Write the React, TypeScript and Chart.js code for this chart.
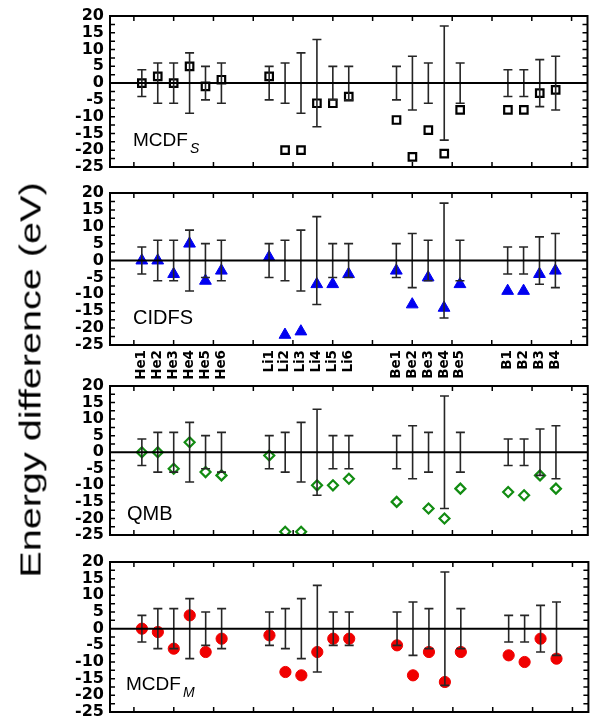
import React, { useEffect, useRef } from "react";
import { Chart, registerables } from "chart.js";

Chart.register(...registerables);

// ---------------- data ----------------
const categories = ["He1", "He2", "He3", "He4", "He5", "He6", "Li1", "Li2", "Li3", "Li4", "Li5", "Li6", "Be1", "Be2", "Be3", "Be4", "Be5", "B1", "B2", "B3", "B4"];
const positions = [2, 3, 4, 5, 6, 7, 10, 11, 12, 13, 14, 15, 18, 19, 20, 21, 22, 25, 26, 27, 28];
const errors = [4, 6, 6, 9, 5, 6, 5, 6, 9, 13, 5, 5, 5, 8, 6, 17, 6, 4, 4, 7, 8];
const mcdfS = [0, 2, 0, 5, -1, 1, 2, -20, -20, -6, -6, -4, -11, -22, -14, -21, -8, -8, -8, -3, -2];
const cidfs = [0, 0, -4, 5, -6, -3, 1, -22, -21, -7, -7, -4, -3, -13, -5, -14, -7, -9, -9, -4, -3];
const qmb = [0, 0, -5, 3, -6, -7, -1, -24, -24, -10, -10, -8, -15, null, -17, -20, -11, -12, -13, -7, -11];
const mcdfM = [0, -1, -6, 4, -7, -3, -2, -13, -14, -7, -3, -3, -5, -14, -7, -16, -7, -8, -10, -3, -9];
const yTickLabels = [-25, -20, -15, -10, -5, 0, 5, 10, 15, 20];
const yTickMarks = [-22.5, -20, -17.5, -15, -12.5, -10, -7.5, -5, -2.5, 2.5, 5, 7.5, 10, 12.5, 15, 17.5];
const xTickMarks = [1.5, 4, 6.5, 9, 11.5, 14, 16.5, 19, 21.5, 24, 26.5, 29];
const yTitle = "Energy difference (eV)";

const FONT = "'Liberation Sans', Arial, Helvetica, sans-serif";
const TICK_FONT = "'DejaVu Sans', sans-serif";

// ---------------- plugins ----------------
const framePlugin = {
  id: "frame",
  afterDatasetsDraw(chart: any) {
    const { ctx, chartArea: a, scales } = chart;
    const xs = scales.x;
    const ys = scales.y;
    ctx.save();
    // error bars
    ctx.strokeStyle = "#262626";
    ctx.lineWidth = 1.6;
    positions.forEach((p, i) => {
      const px = xs.getPixelForValue(p);
      const t = ys.getPixelForValue(errors[i]);
      const b = ys.getPixelForValue(-errors[i]);
      ctx.beginPath();
      ctx.moveTo(px, t);
      ctx.lineTo(px, b);
      ctx.moveTo(px - 4.5, t);
      ctx.lineTo(px + 4.5, t);
      ctx.moveTo(px - 4.5, b);
      ctx.lineTo(px + 4.5, b);
      ctx.stroke();
    });
    // zero line
    ctx.strokeStyle = "#000";
    ctx.lineWidth = 2;
    const z = ys.getPixelForValue(0);
    ctx.beginPath();
    ctx.moveTo(a.left, z);
    ctx.lineTo(a.right, z);
    ctx.stroke();
    // tick marks
    ctx.lineWidth = 1.5;
    ctx.beginPath();
    xTickMarks.forEach((v) => {
      const px = xs.getPixelForValue(v);
      ctx.moveTo(px, a.top);
      ctx.lineTo(px, a.top + 5);
      ctx.moveTo(px, a.bottom);
      ctx.lineTo(px, a.bottom - 5);
    });
    yTickMarks.forEach((v) => {
      const py = ys.getPixelForValue(v);
      ctx.moveTo(a.left, py);
      ctx.lineTo(a.left + 5, py);
      ctx.moveTo(a.right, py);
      ctx.lineTo(a.right - 5, py);
    });
    ctx.stroke();
    // frame
    ctx.lineWidth = 2;
    ctx.strokeRect(a.left, a.top, a.right - a.left, a.bottom - a.top);
    ctx.restore();
  },
};

const labelPlugin = {
  id: "panelLabel",
  afterDraw(chart: any, _args: any, opts: any) {
    const { ctx, chartArea: a } = chart;
    ctx.save();
    ctx.fillStyle = "#000";
    ctx.textBaseline = "alphabetic";
    ctx.textAlign = "left";
    ctx.font = `${opts.size}px ${FONT}`;
    const x = a.left + opts.dx;
    const y = a.bottom - opts.dy;
    ctx.fillText(opts.text, x, y);
    if (opts.sub) {
      const w = ctx.measureText(opts.text).width;
      ctx.font = `italic 14px ${FONT}`;
      ctx.fillText(opts.sub, x + w + 2, y + 7);
    }
    ctx.restore();
  },
};

// ---------------- panels ----------------
type PanelDef = {
  values: (number | null)[];
  pointStyle: string;
  radius: number;
  fill: string;
  border: string;
  borderWidth: number;
  text: string;
  sub?: string;
  size: number;
  dx: number;
  dy: number;
  top: number;
  height: number;
  showCats: boolean;
};

const panels: PanelDef[] = [
  { values: mcdfS, pointStyle: "rect", radius: 5.3, fill: "rgba(255,255,255,0)", border: "#000", borderWidth: 2.2, text: "MCDF", sub: "S", size: 19, dx: 23, dy: 21, top: 2, height: 179, showCats: false },
  { values: cidfs, pointStyle: "triangle", radius: 6.8, fill: "#0000f0", border: "#0000f0", borderWidth: 1, text: "CIDFS", size: 20, dx: 23, dy: 21, top: 179, height: 206, showCats: true },
  { values: qmb, pointStyle: "rectRot", radius: 5, fill: "rgba(255,255,255,0)", border: "#128c12", borderWidth: 2.2, text: "QMB", size: 20, dx: 17, dy: 15, top: 372, height: 177, showCats: false },
  { values: mcdfM, pointStyle: "circle", radius: 5.6, fill: "#f00000", border: "#f00000", borderWidth: 1, text: "MCDF", sub: "M", size: 19, dx: 16, dy: 22, top: 548, height: 178, showCats: false },
];

function buildConfig(def: PanelDef): any {
  const data = positions
    .map((p, i) => ({ x: p, y: def.values[i] }))
    .filter((d) => d.y !== null);
  const xScale = def.showCats
    ? {
        type: "linear",
        min: 0,
        max: 30,
        position: "bottom",
        grid: { display: false, drawTicks: false },
        border: { display: false },
        afterBuildTicks: (axis: any) => {
          axis.ticks = positions.map((v) => ({ value: v }));
        },
        afterFit: (axis: any) => {
          axis.height = 40;
        },
        ticks: {
          autoSkip: false,
          minRotation: 90,
          maxRotation: 90,
          padding: 5,
          color: "#000",
          font: { family: TICK_FONT, size: 13.5, weight: "bold" },
          callback: (_v: any, i: number) => categories[i],
        },
      }
    : { type: "linear", min: 0, max: 30, display: false };
  return {
    type: "scatter",
    data: {
      datasets: [
        {
          data,
          pointStyle: def.pointStyle,
          pointRadius: def.radius,
          pointHoverRadius: def.radius,
          backgroundColor: def.fill,
          borderColor: def.border,
          pointBorderWidth: def.borderWidth,
          borderWidth: def.borderWidth,
          showLine: false,
        },
      ],
    },
    options: {
      responsive: false,
      maintainAspectRatio: false,
      animation: false,
      devicePixelRatio: 1,
      events: [],
      layout: { padding: { left: 0, right: 5, top: 12, bottom: def.showCats ? 0 : 12 } },
      plugins: {
        legend: { display: false },
        tooltip: { enabled: false },
        panelLabel: { text: def.text, sub: def.sub, size: def.size, dx: def.dx, dy: def.dy },
      },
      scales: {
        x: xScale,
        y: {
          type: "linear",
          min: -25,
          max: 20,
          afterFit: (s: any) => {
            s.width = 110;
          },
          afterBuildTicks: (axis: any) => {
            axis.ticks = yTickLabels.map((v) => ({ value: v }));
          },
          grid: { display: false, drawTicks: false },
          border: { display: false },
          ticks: {
            autoSkip: false,
            padding: 6,
            color: "#000",
            font: { family: TICK_FONT, size: 16, weight: "bold", lineHeight: 1 },
            callback: (v: any) => String(v),
          },
        },
      },
    },
    plugins: [framePlugin, labelPlugin],
  };
}

function Panel({ def }: { def: PanelDef }) {
  const ref = useRef<HTMLCanvasElement>(null);
  useEffect(() => {
    const chart = new Chart(ref.current as HTMLCanvasElement, buildConfig(def));
    return () => chart.destroy();
  }, [def]);
  return (
    <canvas
      ref={ref}
      width={595}
      height={def.height}
      style={{ position: "absolute", left: 0, top: def.top, width: 595, height: def.height }}
    />
  );
}

export default function App() {
  return (
    <div style={{ position: "fixed", left: 0, top: 0, width: 595, height: 719, overflow: "hidden", background: "#fff" }}>
      {panels.map((p, i) => (
        <Panel key={i} def={p} />
      ))}
      <div style={{ position: "absolute", left: 31, top: 380, width: 0, height: 0 }}>
        <div
          style={{
            position: "absolute",
            left: 0,
            top: 0,
            whiteSpace: "nowrap",
            fontFamily: FONT,
            fontSize: 29,
            lineHeight: "29px",
            color: "#000",
            transform: "translate(-50%, -50%) rotate(-90deg) scaleX(1.365)",
          }}
        >
          {yTitle}
        </div>
      </div>
    </div>
  );
}
